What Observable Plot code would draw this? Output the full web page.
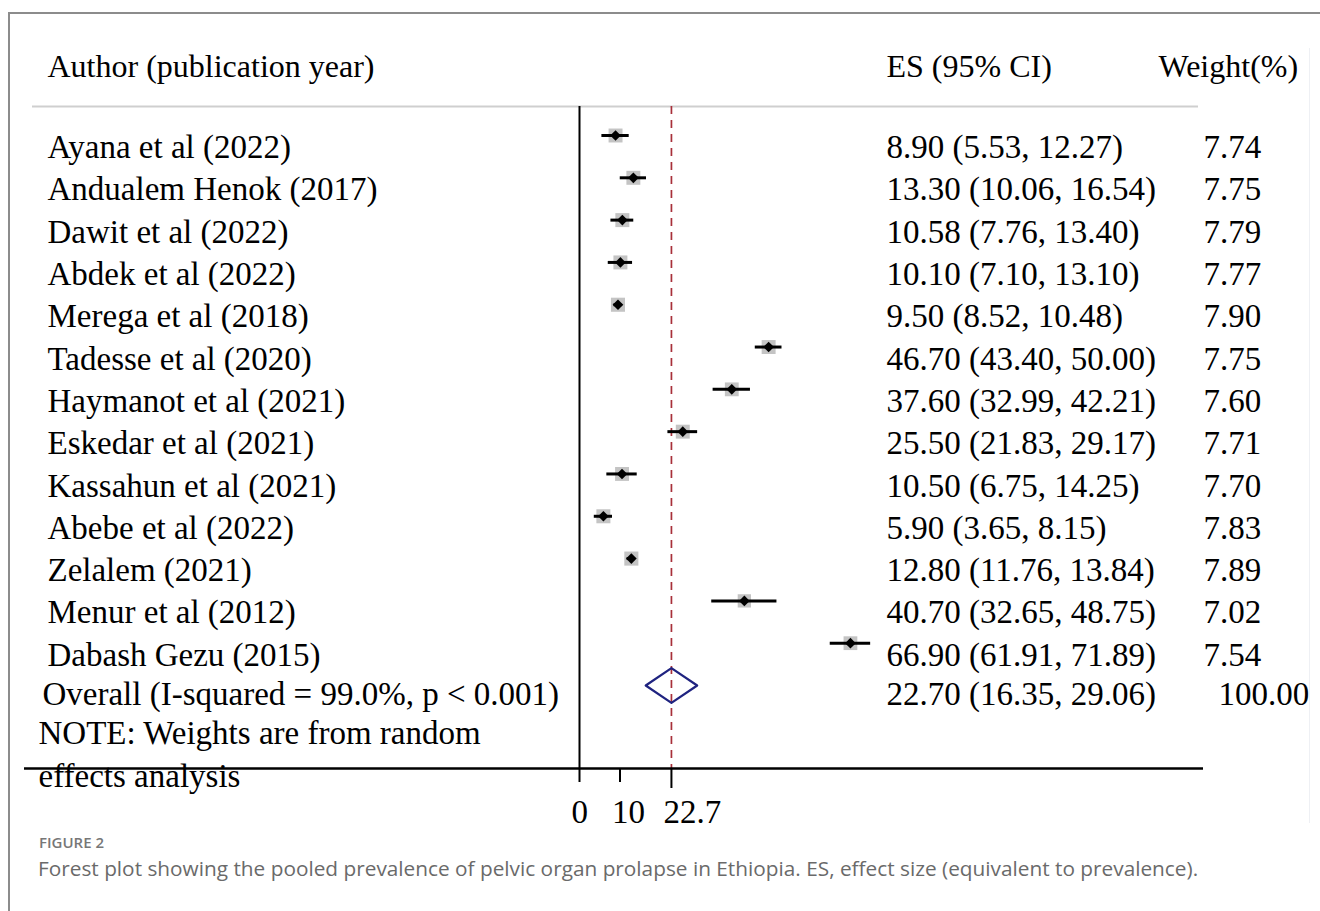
<!DOCTYPE html>
<html>
<head>
<meta charset="utf-8">
<script src="https://cdn.jsdelivr.net/npm/d3@7"></script>
<script src="https://cdn.jsdelivr.net/npm/@observablehq/plot@0.6"></script>
<style>
  html, body { margin: 0; padding: 0; background: #fff; }
  body { width: 1320px; height: 911px; position: relative; overflow: hidden; }
  #frame { position: absolute; left: 8px; top: 12px; width: 1400px; height: 1000px;
           border-left: 2px solid #8c8c8c; border-top: 2px solid #8c8c8c; }
  #faint { position: absolute; left: 1309px; top: 48px; width: 1px; height: 775px; background: #eef0f4; }
  #chart { position: absolute; left: 0; top: 0; }
  #fig { position: absolute; left: 39px; top: 832px; font-family: "Open Sans", sans-serif;
         font-size: 15px; line-height: 20px; color: #777; font-weight: 600; }
  #cap { position: absolute; left: 38px; top: 854px; font-family: "Open Sans", sans-serif;
         font-size: 20.8px; line-height: 28px; color: #6a6a6a; white-space: nowrap; }
</style>
</head>
<body>
<div id="frame"></div>
<div id="faint"></div>
<div id="chart"></div>
<div id="fig">FIGURE 2</div>
<div id="cap">Forest plot showing the pooled prevalence of pelvic organ prolapse in Ethiopia. ES, effect size (equivalent to prevalence).</div>
<script>
// ---- data ----
const studies = [
  "Ayana et al (2022)", "Andualem Henok (2017)", "Dawit et al (2022)", "Abdek et al (2022)",
  "Merega et al (2018)", "Tadesse et al (2020)", "Haymanot et al (2021)", "Eskedar et al (2021)",
  "Kassahun et al (2021)", "Abebe et al (2022)", "Zelalem (2021)", "Menur et al (2012)",
  "Dabash Gezu (2015)"
];
const esValues = [8.90, 13.30, 10.58, 10.10, 9.50, 46.70, 37.60, 25.50, 10.50, 5.90, 12.80, 40.70, 66.90];
const ciLower  = [5.53, 10.06, 7.76, 7.10, 8.52, 43.40, 32.99, 21.83, 6.75, 3.65, 11.76, 32.65, 61.91];
const ciUpper  = [12.27, 16.54, 13.40, 13.10, 10.48, 50.00, 42.21, 29.17, 14.25, 8.15, 13.84, 48.75, 71.89];
const weights  = [7.74, 7.75, 7.79, 7.77, 7.90, 7.75, 7.60, 7.71, 7.70, 7.83, 7.89, 7.02, 7.54];

const overallLabel = "Overall (I-squared = 99.0%, p < 0.001)";
const overallES = 22.70, overallLower = 16.35, overallUpper = 29.06, overallWeight = 100.00;

const headerLabels = ["Author (publication year)", "ES (95% CI)", "Weight(%)"];
const noteLines = ["NOTE: Weights are from random", "effects analysis"];
const axisTicks = [0, 10, 22.7];

// ---- derived tables ----
const rows = studies.map((name, i) => ({
  i, name, es: esValues[i], lo: ciLower[i], hi: ciUpper[i], w: weights[i],
  esText: `${esValues[i].toFixed(2)} (${ciLower[i].toFixed(2)}, ${ciUpper[i].toFixed(2)})`,
  wText: weights[i].toFixed(2)
}));
const overallRow = {
  i: studies.length, name: overallLabel, es: overallES, lo: overallLower, hi: overallUpper,
  esText: `${overallES.toFixed(2)} (${overallLower.toFixed(2)}, ${overallUpper.toFixed(2)})`,
  wText: overallWeight.toFixed(2)
};
const dh = 0.41; // diamond half-height in row units
const diamond = [
  {x: overallRow.lo, y: overallRow.i},
  {x: overallRow.es, y: overallRow.i - dh},
  {x: overallRow.hi, y: overallRow.i},
  {x: overallRow.es, y: overallRow.i + dh},
  {x: overallRow.lo, y: overallRow.i}
];

const FONT = "'Liberation Serif', 'Times New Roman', serif";
const FS = 33, FSH = 32;
const TDY = 12;
const W = 1320, H = 835, FRAME_BOTTOM = 768;
const T = {textAnchor: "start", lineAnchor: "middle", fontSize: FS};
const TH = {textAnchor: "start", lineAnchor: "middle", fontSize: FSH, frameAnchor: "top-left"};

const chart = Plot.plot({
  width: W,
  height: H,
  marginLeft: 0, marginRight: 0, marginTop: 0, marginBottom: H - FRAME_BOTTOM,
  style: {fontFamily: FONT, fontSize: FS + "px", color: "black", background: "transparent", overflow: "visible"},
  x: {domain: [0, 100], range: [579, 984]},
  y: {domain: [0, studies.length], range: [135, 685], axis: null},
  r: {type: "sqrt", domain: [0, 8], range: [0, 8]},
  marks: [
    // header texts
    Plot.text([headerLabels[0]], {...TH, dx: 47, dy: 66}),
    Plot.text([headerLabels[1]], {...TH, dx: 886, dy: 66}),
    Plot.text([headerLabels[2]], {...TH, dx: 1158, dy: 66}),
    // header rule
    Plot.ruleY([0], {dy: -29, insetLeft: 32, insetRight: W - 1198, stroke: "#cfcfcf", strokeWidth: 2}),
    // vertical zero line & overall dashed line
    Plot.ruleX([0], {insetTop: 106, stroke: "black", strokeWidth: 2}),
    Plot.ruleX([overallES], {insetTop: 106, stroke: "#a8303a", strokeWidth: 1.7, strokeDasharray: "8,6"}),
    // bottom axis line
    Plot.ruleY([studies.length], {dy: FRAME_BOTTOM - 685, insetLeft: 24, insetRight: W - 1203, stroke: "black", strokeWidth: 2.5}),
    // study markers
    Plot.dot(rows, {x: "es", y: "i", r: "w", symbol: "square", fill: "#c4c4c4", stroke: "none"}),
    Plot.ruleY(rows, {y: "i", x1: "lo", x2: "hi", stroke: "black", strokeWidth: 3}),
    Plot.dot(rows, {x: "es", y: "i", r: 4.8, symbol: "diamond2", fill: "black", stroke: "none"}),
    // overall diamond
    Plot.line(diamond, {x: "x", y: "y", stroke: "#1f2380", strokeWidth: 2.2}),
    // study labels & columns
    Plot.text(rows, {...T, y: "i", text: "name", frameAnchor: "left", dx: 47, dy: TDY}),
    Plot.text(rows, {...T, y: "i", text: "esText", frameAnchor: "left", dx: 886, dy: TDY}),
    Plot.text(rows, {...T, y: "i", text: "wText", frameAnchor: "left", dx: 1203, dy: TDY}),
    // overall row texts
    Plot.text([overallRow], {...T, y: "i", text: "name", frameAnchor: "left", dx: 42, dy: 9}),
    Plot.text([overallRow], {...T, y: "i", text: "esText", frameAnchor: "left", dx: 886, dy: 9}),
    Plot.text([overallRow], {...T, y: "i", text: "wText", frameAnchor: "left", dx: 1218, dy: 9}),
    // note lines
    Plot.text([noteLines[0]], {...T, frameAnchor: "top-left", dx: 38, dy: 733}),
    Plot.text([noteLines[1]], {...T, frameAnchor: "top-left", dx: 38, dy: 776}),
    // x axis ticks (the pooled estimate tick is longer)
    Plot.axisX(axisTicks.filter(d => d !== overallES), {anchor: "bottom", tickSize: 14, tickFormat: () => "",
                stroke: "black", strokeWidth: 2, label: null}),
    Plot.axisX([overallES], {anchor: "bottom", tickSize: 20, tickFormat: () => "",
                stroke: "black", strokeWidth: 2, label: null}),
    // x axis tick labels
    Plot.text(axisTicks, {...T, x: d => d, text: d => String(d), frameAnchor: "bottom", dx: -8, dy: 44})
  ]
});
document.getElementById("chart").appendChild(chart);
</script>
</body>
</html>
